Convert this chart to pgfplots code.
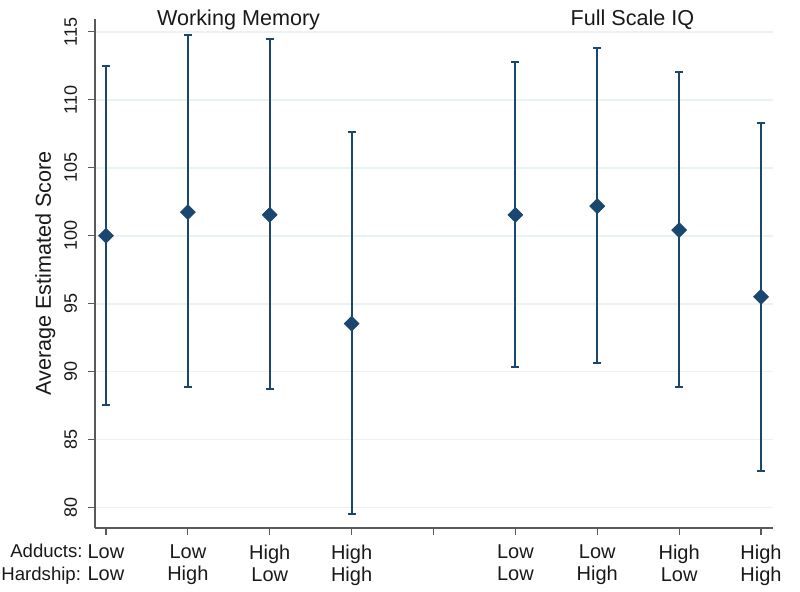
\documentclass[border=0pt]{standalone}
\usepackage{pgfplots}
\pgfplotsset{compat=1.18}
\usepackage{pgfplotstable}
\usepackage{fontspec}
\setmainfont{Liberation Sans}
\definecolor{navy}{RGB}{26,71,111}
\definecolor{gridc}{RGB}{234,243,244}
\definecolor{axc}{RGB}{90,90,90}
\definecolor{txt}{RGB}{25,25,25}

\pgfplotstableread{
x y lo hi
1 100.00 87.53 112.48
2 101.74 88.90 114.76
3 101.54 88.70 114.46
4 93.53 79.54 107.60
6 101.54 90.37 112.82
7 102.18 90.62 113.82
8 100.42 88.90 112.06
9 95.51 82.72 108.29
}\datatab

\begin{document}
\begin{tikzpicture}
\path[use as bounding box] (-47.5pt,-32pt) rectangle (352.5pt,264pt);
\begin{axis}[
 scale only axis, width=339pt, height=254.5pt,
 xmin=0.866, xmax=9.146, ymin=78.5, ymax=115.95,
 axis x line=bottom, axis y line=left,
 axis line style={-, axc, line width=0.6pt},
 xtick={1,...,9},
 xticklabels={Low\\Low, Low\\High, High\\Low, High\\High, {}, Low\\Low, Low\\High, High\\Low, High\\High},
 ytick={80,85,...,115},
 tick align=outside, major tick length=3.5pt, tick style={axc, line width=0.6pt},
 ymajorgrids, grid style={gridc, line width=0.8pt},
 /pgf/number format/assume math mode=true,
 yticklabel style={rotate=90, anchor=south, font=\fontsize{9}{10}\selectfont, text=txt},
 yticklabel shift=2pt,
 xticklabel shift=1.5pt,
 x tick label style={align=center, font=\fontsize{10}{11}\selectfont, text=txt},
 ylabel={Average Estimated Score},
 ylabel style={font=\fontsize{10.8}{12}\selectfont, text=txt, yshift=-2.5pt},
 clip=false,
]
\addplot[navy, only marks, mark=square*, mark size=2.6pt,
  mark options={rotate=45, fill=navy, draw=navy},
  error bars/.cd, y dir=both, y explicit,
  error bar style={line width=1pt, navy},
  error mark options={rotate=90, mark size=2pt, line width=1pt, navy}]
  table[x=x, y=y, y error plus expr=\thisrow{hi}-\thisrow{y}, y error minus expr=\thisrow{y}-\thisrow{lo}] {\datatab};
\node[font=\fontsize{10.8}{12}\selectfont, text=txt] at (axis cs:2.62,115.9) {Working Memory};
\node[font=\fontsize{10.8}{12}\selectfont, text=txt] at (axis cs:7.43,115.9) {Full Scale IQ};
\node[anchor=base east, font=\fontsize{9.3}{11}\selectfont, text=txt, inner sep=0pt] at (axis cs:0.72,76.3) {Adducts:};
\node[anchor=base east, font=\fontsize{9.3}{11}\selectfont, text=txt, inner sep=0pt] at (axis cs:0.70,74.6) {Hardship:};
\end{axis}
\end{tikzpicture}
\end{document}
